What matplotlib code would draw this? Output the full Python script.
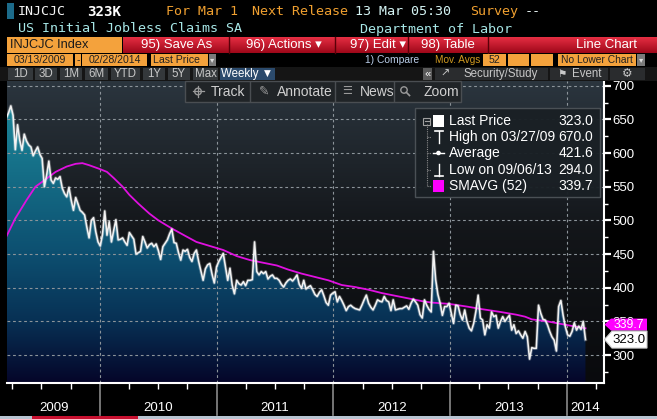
import datetime as dt
import numpy as np
import matplotlib
matplotlib.use("Agg")
import matplotlib.pyplot as plt
import matplotlib.dates as mdates
from matplotlib.patches import Rectangle, Polygon, Circle
from matplotlib.ticker import NullFormatter
from matplotlib.transforms import blended_transform_factory

# ---------------- data ----------------
start_date = dt.date(2009, 3, 13)
claims = [
    652, 660, 670, 656, 605, 642, 619, 604, 628, 618, 612, 609, 596,
    603, 609, 598, 592, 550, 567, 588, 560, 555, 563, 561, 565, 548,
    540, 535, 549, 530, 515, 534, 525, 515, 512, 508, 490, 474, 500,
    504, 483, 468, 462, 479, 514, 478, 498, 468, 485, 501, 471, 472,
    474, 468, 463, 482, 477, 472, 450, 452, 454, 476, 468, 459, 464,
    466, 461, 465, 455, 442, 461, 466, 471, 480, 487, 467, 466, 452,
    441, 456, 454, 457, 445, 439, 451, 456, 439, 425, 411, 428, 434,
    436, 420, 407, 431, 439, 445, 451, 431, 411, 429, 404, 391, 411,
    406, 404, 409, 403, 411, 411, 412, 468, 424, 419, 424, 421, 424,
    413, 417, 419, 414, 414, 411, 405, 401, 407, 411, 413, 410, 414,
    419, 405, 399, 411, 398, 401, 403, 397, 390, 387, 393, 397, 388,
    378, 374, 389, 392, 394, 379, 387, 381, 374, 366, 372, 374, 371,
    369, 368, 367, 374, 382, 389, 377, 371, 367, 374, 382, 380, 379,
    387, 381, 379, 366, 382, 367, 368, 369, 369, 371, 373, 368, 377,
    383, 379, 374, 360, 355, 382, 374, 368, 364, 454, 412, 390, 377,
    359, 372, 372, 377, 362, 347, 374, 373, 360, 352, 367, 350, 340,
    336, 347, 365, 389, 355, 352, 330, 345, 340, 364, 357, 359, 340,
    350, 357, 350, 355, 359, 337, 345, 332, 336, 330, 325, 335, 327,
    294, 311, 310, 310, 374, 362, 353, 352, 345, 335, 327, 322, 306,
    372, 381, 359, 342, 330, 328, 335, 348, 337, 343, 338, 350, 323,
]
sma_weeks = [0, 4, 9, 13, 18, 22, 27, 31, 34, 37, 42, 45, 48, 52, 55, 59,
             64, 68, 74, 80, 85, 91, 97, 103, 109, 115, 121, 126, 132, 138,
             144, 150, 156, 162, 168, 174, 180, 186, 190, 198, 206, 213,
             221, 228, 232, 235, 242, 250, 255, 259]
sma_values = [476, 503, 530, 550, 562, 572, 580, 584, 585, 582, 576, 572,
              563, 550, 538, 525, 510, 500, 488, 477, 468, 462, 456, 447,
              441, 437, 433, 427, 421, 416, 411, 404, 401, 397, 392, 388,
              384, 380, 378, 376, 372, 368, 364, 360, 357, 353, 350, 345,
              342, 339.7]
average_value = 421.6
y_ticks = [300, 350, 400, 450, 500, 550, 600, 650, 700]
year_labels = [2009, 2010, 2011, 2012, 2013, 2014]
period_buttons = ["1D", "3D", "1M", "6M", "YTD", "1Y", "5Y", "Max"]
toolbar_items = ["Track", "Annotate", "News", "Zoom"]

# ---------------- figure ----------------
W, H = 657, 419
fig = plt.figure(figsize=(W / 100, H / 100), dpi=100, facecolor="black")

AX_L, AX_R, AX_T, AX_B = 7, 604, 81, 383
ax = fig.add_axes([AX_L / W, 1 - AX_B / H, (AX_R - AX_L) / W, (AX_B - AX_T) / H])
ax.set_zorder(1)
ax.set_facecolor("black")

SANS = ["Liberation Sans", "DejaVu Sans"]
MONO = ["DejaVu Sans Mono", "DejaVu Sans"]

dates = [start_date + dt.timedelta(weeks=i) for i in range(len(claims))]
xnum = mdates.date2num(dates)
sma_dates = mdates.date2num([start_date + dt.timedelta(weeks=w) for w in sma_weeks])
YMIN, YMAX = 258.5, 707
XMIN = mdates.date2num(dt.date(2009, 3, 15))
XMAX = mdates.date2num(dt.date(2014, 4, 27))

# background gradient
t = np.linspace(0, 1, 300)
top = np.array([0.17, 0.21, 0.245])
mid = np.array([0.075, 0.085, 0.10])
bot = np.array([0.035, 0.04, 0.05])
bg = np.where(t[:, None] < 0.5,
              top + (mid - top) * (t[:, None] / 0.5),
              mid + (bot - mid) * ((t[:, None] - 0.5) / 0.5))
ax.imshow(bg[:, None, :], extent=[0, 1, 0, 1], transform=ax.transAxes,
          aspect="auto", origin="upper", zorder=0)

# area gradient under the line
stops_v = [YMIN, 350, 450, 600, 700]
stops_c = [(0.02, 0.02, 0.16), (0.03, 0.19, 0.33), (0.05, 0.31, 0.44),
           (0.09, 0.46, 0.55), (0.11, 0.54, 0.61)]
vv = np.linspace(700, YMIN, 300)
grad = np.stack([np.interp(vv, stops_v, [c[k] for c in stops_c]) for k in range(3)], axis=-1)
poly = ax.fill_between(xnum, claims, YMIN, facecolor="none", edgecolor="none")
im = ax.imshow(grad[:, None, :], extent=[xnum[0], xnum[-1], YMIN, 700],
               aspect="auto", origin="upper", zorder=1)
im.set_clip_path(poly.get_paths()[0], transform=ax.transData)

# grid
for v in y_ticks:
    ax.axhline(v, color="#8c949a", lw=0.8, ls=(0, (2.5, 2.5)), zorder=2)
for yr in year_labels[1:]:
    ax.axvline(mdates.date2num(dt.date(yr, 1, 1)), color="#8c949a", lw=0.8,
               ls=(0, (2.5, 2.5)), zorder=2)

# lines
ax.plot(sma_dates, sma_values, color="#e010e0", lw=1.3, zorder=3)
ax.plot(xnum, claims, color="white", lw=2.4, alpha=0.25, zorder=4)
ax.plot(xnum, claims, color="#f2f2f2", lw=1.15, zorder=4)

ax.set_xlim(XMIN, XMAX)
ax.set_ylim(YMIN, YMAX)
for s in ["top", "left"]:
    ax.spines[s].set_visible(False)
for s in ["right", "bottom"]:
    ax.spines[s].set_color("white")
    ax.spines[s].set_linewidth(1.5)

ax.yaxis.tick_right()
ax.set_yticks(y_ticks)
ax.set_yticks([v + 25 for v in y_ticks[:-1]] + [275], minor=True)
ax.tick_params(axis="y", which="major", length=5, width=1.6, colors="white",
               labelsize=9.5, pad=1)
ax.tick_params(axis="y", which="minor", length=3, width=1, colors="white")
for lbl in ax.get_yticklabels():
    lbl.set_family(SANS)

ax.xaxis.set_major_locator(mdates.YearLocator())
ax.xaxis.set_major_formatter(NullFormatter())
ax.xaxis.set_minor_locator(mdates.MonthLocator(bymonth=[4, 7, 10]))
ax.xaxis.set_minor_formatter(NullFormatter())
ax.tick_params(axis="x", which="major", length=0)
ax.tick_params(axis="x", which="minor", length=4, width=1, colors="white")

blend = blended_transform_factory(ax.transData, ax.transAxes)
ph = AX_B - AX_T
for yr in year_labels[1:]:
    xd = mdates.date2num(dt.date(yr, 1, 1))
    ax.plot([xd, xd], [0, -32 / ph], transform=blend, clip_on=False,
            color="#8a8a8a", lw=1.2)
for yr in year_labels:
    a = max(mdates.date2num(dt.date(yr, 1, 1)), XMIN)
    b = min(mdates.date2num(dt.date(yr + 1, 1, 1)), XMAX)
    ax.text((a + b) / 2, -25 / ph, str(yr), transform=blend, ha="center",
            va="center", color="white", fontsize=9.5, family=SANS)

# ---------------- overlay (pixel coords) ----------------
ov = fig.add_axes([0, 0, 1, 1], zorder=5)
ov.set_xlim(0, W)
ov.set_ylim(H, 0)
ov.axis("off")
ov.patch.set_alpha(0)


def box(x0, y0, x1, y1, fc, ec="none", lw=0, z=2, alpha=1):
    ov.add_patch(Rectangle((x0, y0), x1 - x0, y1 - y0, fc=fc, ec=ec, lw=lw,
                           zorder=z, alpha=alpha))


def txt(x, y, s, color="white", size=9.5, fam=SANS, ha="left", weight="normal", z=4):
    ov.text(x, y, s, color=color, fontsize=size, family=fam, ha=ha, va="center",
            fontweight=weight, zorder=z)


ORANGE = "#f0a030"
# row 1
box(7, 3, 14, 19, "#1c6b8a")
txt(18, 11.5, "INJCJC", "#f4f4f4", 9.6, MONO)
txt(87, 11.5, "323K", "white", 10.2, MONO, weight="bold")
txt(166, 11.5, "For Mar 1", ORANGE, 9.6, MONO)
txt(252, 11.5, "Next Release", ORANGE, 9.6, MONO)
txt(355, 11.5, "13 Mar 05:30", "#d4f4f4", 9.6, MONO)
txt(470, 11.5, "Survey", ORANGE, 9.6, MONO)
txt(525, 11.5, "--", "#e8f4f4", 9.6, MONO)
# row 2
txt(18, 29, "US Initial Jobless Claims SA", "#a6e6e6", 9.6, MONO)
txt(360, 29, "Department of Labor", "#a6e6e6", 9.6, MONO)

# row 3
box(7, 37, 122, 53, "#f4a23c")
txt(10, 45, "INJCJC Index", "#1a1a1a", 9.2)
red = np.linspace(0, 1, 40)[:, None]
redc = np.array([0.90, 0.18, 0.26]) + (np.array([0.62, 0.03, 0.10]) - np.array([0.90, 0.18, 0.26])) * red
ov.imshow(redc[:, None, :], extent=[123, 657, 53, 37], aspect="auto", origin="upper", zorder=1)
for xs in [228.5, 334.5, 407.5, 487.5]:
    ov.plot([xs, xs], [37, 53], color="#5a0008", lw=1, zorder=2)
txt(177, 45, "95) Save As", "white", 9.5, ha="center")
txt(284, 45, "96) Actions \u25be", "white", 9.5, ha="center")
txt(378, 45, "97) Edit \u25be", "white", 9.5, ha="center")
txt(448, 45, "98) Table", "white", 9.5, ha="center")
txt(637, 45, "Line Chart", "white", 9.5, ha="right")

# row 4
box(7, 54, 73, 66, "#f4a23c")
txt(40, 60, "03/13/2009", "#222222", 7.6, ha="center")
box(75, 54, 81, 66, "#f4a23c")
txt(78, 60, "-", "#222222", 7.6, ha="center")
box(82, 54, 147, 66, "#f4a23c")
txt(114.5, 60, "02/28/2014", "#222222", 7.6, ha="center")
box(151, 54, 208, 66, "#f4a23c")
txt(153, 60, "Last Price", "#222222", 7.6)
box(209, 54, 216, 66, "#7a7a7a")
txt(212.5, 60.5, "\u25be", "#dddddd", 6, ha="center")
txt(365, 60, "1) Compare", "#b8cce8", 7.4)
txt(435, 60, "Mov. Avgs", "#d09a20", 7.2)
box(483, 54, 506, 66, "#f4a23c")
txt(494.5, 60, "52", "#222222", 7.6, ha="center")
box(508, 54, 529, 66, "#f4a23c")
box(531, 54, 553, 66, "#f4a23c")
box(558, 54, 636, 66, "#f4a23c")
txt(561, 60, "No Lower Chart", "#222222", 7.4)
box(637, 54, 645, 66, "#7a7a7a")
txt(641, 60.5, "\u25be", "#dddddd", 6, ha="center")

# row 5
box(0, 67, W, 81, "#151515", z=1)
bx = [(8, 33), (35, 57), (60, 82), (85, 108), (111, 140), (143, 165), (168, 190), (193, 218)]
for (a, b), lab in zip(bx, period_buttons):
    box(a, 68, b, 80, "#34383b")
    txt((a + b) / 2, 74, lab, "#c8c8c8", 8.3, ha="center")
box(220, 68, 275, 80, "#2b4a6c")
txt(247, 74, "Weekly \u25bc", "white", 8.3, ha="center")
box(423, 68, 432, 80, "#5a5a5a")
txt(427.5, 73.5, "\u00ab", "white", 8, ha="center")
box(435, 68, 548, 80, "#2a2c2e")
txt(445, 74, "\u2197", "#c8c8c8", 8, ha="center")
txt(463, 74, "Security/Study", "#c8c8c8", 8.3)
box(550, 68, 608, 80, "#2a2c2e")
txt(562, 74, "\u2691", "#c8c8c8", 7.5, ha="center")
txt(572, 74, "Event", "#c8c8c8", 8.3)
box(610, 68, 645, 80, "#2a2c2e")
txt(627, 74, "\u2699", "#c8c8c8", 8.5, ha="center")

# chart toolbar
box(185, 81, 461, 102, "#202427", ec="#4a4e52", lw=1, z=3)
for xs in [250, 335, 394]:
    ov.plot([xs, xs], [82, 101], color="#4a4e52", lw=1, zorder=4)
# crosshair icon (drawn: no installed font has the glyph)
ov.add_patch(Circle((198, 91.5), 3.3, fc="none", ec="#9a9a9a", lw=1, zorder=5))
ov.plot([192.5, 203.5], [91.5, 91.5], color="#9a9a9a", lw=0.9, zorder=5)
ov.plot([198, 198], [86, 97], color="#9a9a9a", lw=0.9, zorder=5)
txt(211, 91.5, "Track", "#d0d0d0", 10)
txt(264, 91.5, "\u270e", "#9a9a9a", 9, ha="center")
txt(277, 91.5, "Annotate", "#d0d0d0", 10)
txt(347, 91.5, "\u2630", "#9a9a9a", 8, ha="center")
txt(360, 91.5, "News", "#d0d0d0", 10)
ov.add_patch(Circle((404, 90), 3.2, fc="none", ec="#9a9a9a", lw=1, zorder=5))
ov.plot([406.3, 409.5], [92.3, 95.5], color="#9a9a9a", lw=1.2, zorder=5)
txt(424, 91.5, "Zoom", "#d0d0d0", 10)

# legend
box(415, 108, 600, 197, "#1a2025", ec="#4c5257", lw=1, z=3, alpha=0.97)
rows_y = [121, 137, 153, 170, 186]
ov.add_patch(Rectangle((423, 117.5), 7, 7, fc="none", ec="#a0a0a0", lw=0.8, zorder=5))
ov.plot([424.5, 428.5], [121, 121], color="#a0a0a0", lw=0.8, zorder=5)
ov.plot([426.5, 426.5], [124.5, 186], color="#8a8a8a", lw=0.8, ls=(0, (1, 1)), zorder=5)
for yy in rows_y[1:]:
    ov.plot([426.5, 431], [yy, yy], color="#8a8a8a", lw=0.8, ls=(0, (1, 1)), zorder=5)
box(433, 115, 444, 127, "white", z=5)
ov.plot([438.5, 438.5], [131, 143], color="white", lw=1, zorder=5)
ov.plot([434.5, 442.5], [131, 131], color="white", lw=1.2, zorder=5)
ov.plot([433, 444], [153, 153], color="white", lw=1, zorder=5)
ov.add_patch(Circle((438.5, 153), 1.6, fc="white", ec="white", zorder=6))
ov.plot([438.5, 438.5], [164, 176], color="white", lw=1, zorder=5)
ov.plot([434.5, 442.5], [176, 176], color="white", lw=1.2, zorder=5)
box(433, 180, 444, 192, "#ff00ff", z=5)
imax, imin = int(np.argmax(claims)), int(np.argmin(claims))
leg_text = ["Last Price",
            "High on " + dates[imax].strftime("%m/%d/%y"),
            "Average",
            "Low on " + dates[imin].strftime("%m/%d/%y"),
            "SMAVG (52)"]
leg_vals = [claims[-1], claims[imax], average_value, claims[imin], sma_values[-1]]
for yy, s, v in zip(rows_y, leg_text, leg_vals):
    txt(449, yy, s, "white", 10, z=6)
    txt(593, yy, f"{v:.1f}", "white", 10, ha="right", z=6)

# right-side value tags
def ypix(v):
    return H - ax.transData.transform((XMIN, v))[1]


y_last = ypix(claims[-1])
y_sma = y_last - 15
pts = [(604.5, y_sma), (611, y_sma - 6), (647, y_sma - 6), (647, y_sma + 6), (611, y_sma + 6)]
ov.add_patch(Polygon(pts, closed=True, fc="#ff00ff", ec="none", zorder=6))
txt(629, y_sma, f"{sma_values[-1]:.1f}", "white", 8.8, ha="center", z=7)
pts = [(604.5, y_last), (612, y_last - 8.5), (647, y_last - 8.5), (647, y_last + 8.5), (612, y_last + 8.5)]
ov.add_patch(Polygon(pts, closed=True, fc="white", ec="#cccccc", lw=0.8, zorder=8))
txt(629, y_last + 0.5, f"{claims[-1]:.1f}", "black", 9.5, ha="center", z=9)

# bottom task strip
box(0, 416, W, H, "#b8c4d2", z=2)
box(32, 416, 138, H, "#c81030", z=3)

fig.savefig("out.png", dpi=100, facecolor="black")
